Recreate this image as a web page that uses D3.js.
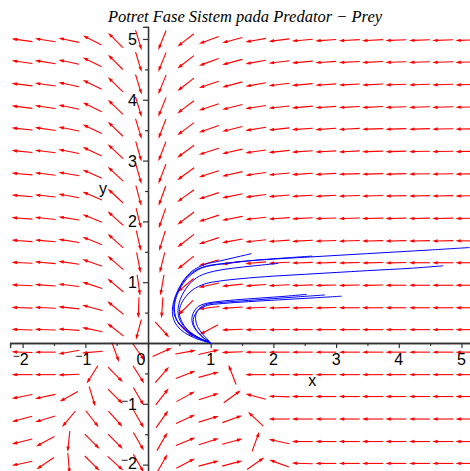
<!DOCTYPE html>
<html>
<head>
<meta charset="utf-8">
<script src="https://cdn.jsdelivr.net/npm/d3@7/dist/d3.min.js"></script>
<style>
  body { margin: 0; background: #fff; }
  svg { display: block; }
</style>
</head>
<body>
<svg id="chart" width="470" height="471"></svg>
<script>
// Grid of direction-field sample points (data units)
const xGrid = [-2.01, -1.64, -1.265, -0.89, -0.52, -0.15, 0.226, 0.60, 0.97, 1.344,
               1.717, 2.09, 2.46, 2.835, 3.21, 3.58, 3.953, 4.33, 4.70, 5.07];
const yGrid = [4.98, 4.62, 4.25, 3.88, 3.52, 3.15, 2.78, 2.42, 2.05, 1.68,
               1.32, 0.95, 0.58, 0.22, -0.15, -0.52, -0.88, -1.25, -1.62, -1.98];

// Arrow direction at each grid point, degrees counter-clockwise from +x; one row per yGrid value
const fieldAngles = [
  [172,171,168,153,135,287,248,218,200,195,190,187,185,184,183,183,182,182,182,182],
  [172,171,168,154,135,287,248,218,200,195,190,187,185,184,183,183,182,182,182,182],
  [173,172,168,154,136,287,248,218,199,195,190,187,185,184,183,183,182,182,182,182],
  [173,172,168,154,136,287,248,217,199,194,189,186,185,184,183,183,182,182,182,181],
  [174,172,169,155,136,287,249,217,199,194,189,186,184,184,183,182,182,182,181,181],
  [174,173,169,155,137,286,249,216,198,193,188,186,184,183,183,182,182,181,181,181],
  [175,173,170,156,137,286,249,216,198,193,188,185,184,183,182,182,182,181,181,181],
  [175,174,170,157,137,285,250,216,198,192,187,185,183,183,182,182,181,181,181,181],
  [176,174,171,158,138,284,251,217,198,191,186,184,183,182,182,181,181,181,181,181],
  [176,175,171,158,138,283,253,218,198,190,186,184,183,182,182,181,181,181,181,180],
  [177,175,172,160,139,281,256,219,197,188,185,183,182,182,181,181,181,180,180,180],
  [177,176,173,162,140,278,260,220,192,186,184,183,182,181,181,181,180,180,180,180],
  [178,177,174,165,141,268,266,225,187,184,183,182,181,181,180,180,180,180,180,180],
  [178,178,176,168,142,255,312,318,208,182,181,181,180,180,180,180,180,180,180,180],
  [178,180,190,185,290,305, 24, 10, 13,182,180,180,180,180,180,180,180,180,180,180],
  [180,180,182,238,315,302, 49, 21, 15,111,180,180,180,180,180,180,180,180,180,180],
  [191,192,209,287,315,300, 52, 29, 18, 36,165,178,180,180,180,180,180,180,180,180],
  [195,197,230,308,312,300, 55, 25, 17, 20,137,180,180,180,180,180,180,180,180,180],
  [194,208,264,315,315,300, 60, 22, 18, 15, 70,168,180,180,180,180,180,180,180,180],
  [192,214,275,315,318,300, 60, 28, 15, 15, 35,160,178,180,180,180,180,180,180,180]
];

// Solution curves (x = prey, y = predator)
const curve1 = [[5.13,1.57],[4.5,1.53],[4.0,1.50],[3.5,1.47],[3.0,1.44],[2.5,1.41],[2.0,1.38],[1.6,1.35],[1.25,1.31],[0.95,1.27],[0.75,1.19],[0.6,1.06],[0.5,0.9],[0.43,0.72],[0.41,0.55],[0.44,0.41],[0.52,0.29],[0.64,0.18],[0.78,0.1],[0.9,0.04],[1.0,0.0]];
const curve2 = [[4.71,1.27],[4.2,1.23],[3.5,1.19],[3.0,1.16],[2.5,1.13],[2.0,1.10],[1.5,1.06],[1.15,1.02],[0.9,0.97],[0.72,0.88],[0.6,0.76],[0.52,0.62],[0.5,0.48],[0.54,0.35],[0.62,0.23],[0.74,0.13],[0.87,0.06],[1.0,0.0]];
const curve3 = [[1.65,1.47],[1.4,1.41],[1.15,1.35],[0.9,1.29],[0.7,1.18],[0.56,1.02],[0.46,0.83],[0.4,0.64],[0.39,0.48],[0.43,0.34],[0.52,0.22],[0.65,0.13],[0.8,0.06],[1.0,0.0]];
const curve4 = [[2.62,1.43],[2.2,1.40],[1.8,1.37],[1.4,1.33],[1.1,1.29],[0.85,1.23],[0.66,1.1],[0.53,0.93],[0.45,0.75],[0.42,0.58],[0.44,0.43],[0.5,0.31],[0.6,0.2],[0.73,0.11],[0.87,0.05],[1.0,0.0]];
const curve5 = [[2.08,1.31],[1.7,1.27],[1.35,1.23],[1.05,1.18],[0.82,1.1],[0.66,0.97],[0.55,0.8],[0.49,0.63],[0.48,0.48],[0.52,0.35],[0.6,0.24],[0.72,0.14],[0.86,0.06],[1.0,0.0]];
const curve6 = [[3.09,0.77],[2.6,0.74],[2.1,0.71],[1.6,0.68],[1.2,0.65],[0.95,0.62],[0.82,0.56],[0.75,0.47],[0.72,0.36],[0.75,0.25],[0.83,0.14],[0.92,0.06],[1.0,0.0]];
const curve7 = [[2.82,0.79],[2.4,0.76],[2.0,0.73],[1.6,0.70],[1.2,0.67],[0.95,0.64],[0.83,0.58],[0.77,0.49],[0.76,0.38],[0.79,0.27],[0.86,0.16],[0.94,0.07],[1.0,0.0]];
const curve8 = [[2.53,0.80],[2.2,0.77],[1.8,0.74],[1.4,0.71],[1.1,0.68],[0.92,0.65],[0.8,0.6],[0.73,0.51],[0.7,0.4],[0.72,0.29],[0.79,0.18],[0.89,0.08],[1.0,0.0]];
const trajectories = [curve1, curve2, curve3, curve4, curve5, curve6, curve7, curve8];

const xTicks = [-2, -1, 0, 1, 2, 3, 4, 5];
const yTicks = [-2, -1, 1, 2, 3, 4, 5];
const xMinorTicks = [-1.5, -0.5, 0.5, 1.5, 2.5, 3.5, 4.5];
const yMinorTicks = [-1.5, -0.5, 0.5, 1.5, 2.5, 3.5, 4.5];

const titleText = "Potret Fase Sistem pada Predator \u2212 Prey";
const xLabel = "x";
const yLabel = "y";

const svg = d3.select("#chart");

const x = d3.scaleLinear().domain([-2.2, 5.2]).range([10.1, 474]);
const y = d3.scaleLinear().domain([-2.2, 5.2]).range([476.8, 26.8]);

// ---- direction field ----
const arrowLen = 21, headLen = 5.5, headHalf = 1.7;
const arrows = [];
yGrid.forEach((yv, j) => {
  xGrid.forEach((xv, i) => {
    arrows.push({ x: xv, y: yv, a: fieldAngles[j][i] });
  });
});

const field = svg.append("g").attr("class", "field");
arrows.forEach(d => {
  const cx = x(d.x), cy = y(d.y);
  const t = d.a * Math.PI / 180;
  const ux = Math.cos(t), uy = -Math.sin(t);
  const tx = cx - ux * arrowLen / 2, ty = cy - uy * arrowLen / 2;
  const hx = cx + ux * arrowLen / 2, hy = cy + uy * arrowLen / 2;
  const bx = hx - ux * headLen, by = hy - uy * headLen;
  const px = -uy, py = ux;
  field.append("line")
    .attr("x1", tx).attr("y1", ty).attr("x2", bx + ux * 1).attr("y2", by + uy * 1)
    .attr("stroke", "#ff0000").attr("stroke-width", 1.1);
  field.append("path")
    .attr("d", `M${hx},${hy}L${bx + px * headHalf},${by + py * headHalf}L${bx - px * headHalf},${by - py * headHalf}Z`)
    .attr("fill", "#ff0000");
});

// ---- axes ----
const axisColor = "#333";
const xAxisG = svg.append("g").attr("transform", `translate(0,${y(0)})`)
  .call(d3.axisBottom(x).tickValues(xTicks).tickSize(5).tickFormat(""));
const xMinorG = svg.append("g").attr("transform", `translate(0,${y(0)})`)
  .call(d3.axisBottom(x).tickValues(xMinorTicks).tickSize(3).tickFormat(""));
const yAxisG = svg.append("g").attr("transform", `translate(${x(0)},0)`)
  .call(d3.axisLeft(y).tickValues(yTicks).tickSize(5).tickFormat(""));
const yMinorG = svg.append("g").attr("transform", `translate(${x(0)},0)`)
  .call(d3.axisLeft(y).tickValues(yMinorTicks).tickSize(3).tickFormat(""));
[xAxisG, xMinorG, yAxisG, yMinorG].forEach(g => {
  g.select(".domain").attr("stroke", axisColor).attr("stroke-width", 1.3);
  g.selectAll(".tick line").attr("stroke", axisColor).attr("stroke-width", 1.2);
});

// ---- solution curves ----
const line = d3.line().x(d => x(d[0])).y(d => y(d[1])).curve(d3.curveCatmullRom.alpha(0.5));
svg.append("g").selectAll("path").data(trajectories).join("path")
  .attr("d", line).attr("fill", "none").attr("stroke", "#0000ff").attr("stroke-width", 1);

// ---- tick labels ----
const labelFont = "'Liberation Sans Narrow', 'Liberation Sans', Arial, sans-serif";
function tickLabel(g, v, ax, ay, anchor) {
  const t = g.append("text").attr("x", ax).attr("y", ay)
    .attr("text-anchor", anchor).attr("font-family", labelFont)
    .attr("font-size", 16).attr("fill", "#000");
  if (v < 0) {
    t.append("tspan").attr("font-size", 12).attr("dy", -5).text("\u2212");
    t.append("tspan").attr("dy", 5).text(Math.abs(v));
  } else {
    t.text(v);
  }
}
const labels = svg.append("g");
xTicks.forEach(v => {
  const ax = v === 0 ? x(0) - 7 : x(v) - (v < 0 ? 2 : 0);
  tickLabel(labels, v, ax, y(0) + 22, "middle");
});
yTicks.forEach(v => {
  // keep the lowest label inside the frame
  const ay = Math.min(y(v) + 6, 469);
  tickLabel(labels, v, x(0) - 11, ay, "end");
});

// axis titles
svg.append("text").attr("x", x(2.62)).attr("y", y(0) + 43)
  .attr("text-anchor", "middle").attr("font-family", labelFont).attr("font-size", 16)
  .text(xLabel);
svg.append("text").attr("x", 103).attr("y", y(2.5) + 3)
  .attr("text-anchor", "middle").attr("font-family", labelFont).attr("font-size", 16)
  .text(yLabel);

// title
svg.append("text").attr("x", 245).attr("y", 22)
  .attr("text-anchor", "middle")
  .attr("font-family", "'Liberation Serif', 'Times New Roman', serif")
  .attr("font-style", "italic").attr("font-size", 16.5)
  .text(titleText);
</script>
</body>
</html>
